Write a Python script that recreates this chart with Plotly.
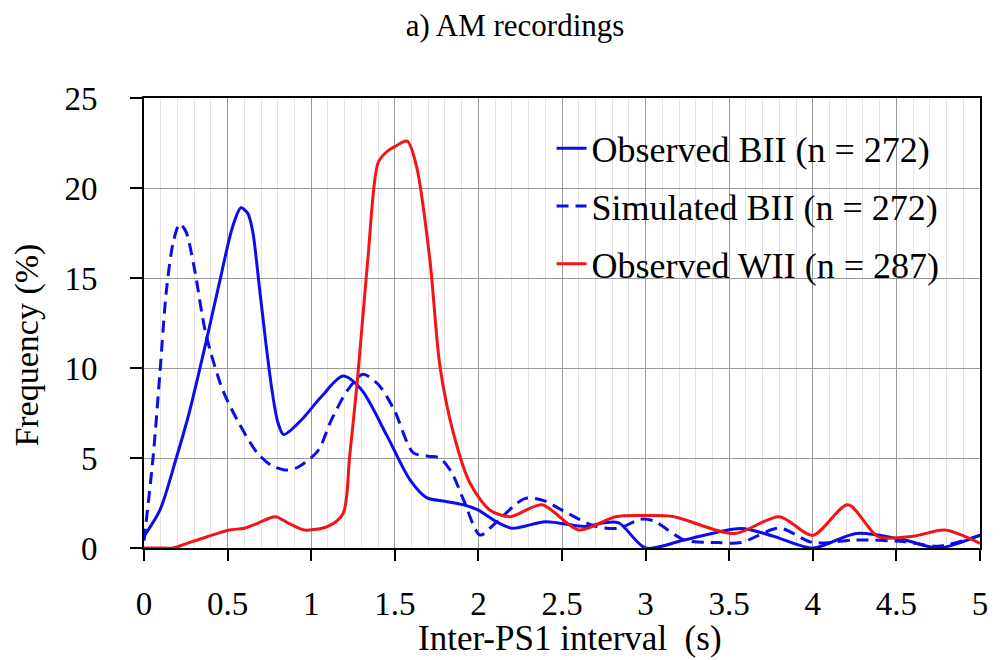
import plotly.graph_objects as go

# ---------------- data ----------------
obs_bii_x = [0, 0.095, 0.19, 0.27, 0.37, 0.45, 0.53, 0.58, 0.62, 0.65, 0.69, 0.73, 0.765, 0.80,
             0.835, 0.94, 1.06, 1.19, 1.30, 1.455, 1.59, 1.69, 1.8, 1.91, 2.0, 2.1, 2.2, 2.4,
             2.64, 2.75, 2.84, 3.0, 3.23, 3.57, 3.76, 4.0, 4.26, 4.55, 4.75, 5.0]
obs_bii_y = [0.65, 2.1, 4.9, 7.5, 11.4, 14.7, 17.85, 18.9, 18.6, 17.6, 14.5, 11.3, 8.8, 7.0,
             6.3, 7.1, 8.4, 9.55, 8.8, 6.2, 3.8, 2.8, 2.6, 2.4, 2.1, 1.5, 1.1, 1.46,
             1.2, 1.4, 1.4, 0.0, 0.44, 1.09, 0.67, 0.0, 0.81, 0.44, 0.0, 0.72]

sim_bii_x = [0, 0.055, 0.095, 0.134, 0.175, 0.213, 0.25, 0.3, 0.37, 0.47, 0.57, 0.676, 0.76,
             0.854, 0.923, 1.04, 1.12, 1.22, 1.31, 1.4, 1.495, 1.61, 1.7, 1.77, 1.84, 1.91,
             2.01, 2.1, 2.28, 2.4, 2.5, 2.7, 2.84, 2.97, 3.05, 3.23, 3.43, 3.57, 3.8, 4.0,
             4.26, 4.55, 4.75, 5.0]
sim_bii_y = [0.4, 5.1, 9.7, 14.3, 17.0, 18.0, 17.6, 15.6, 11.9, 8.8, 6.9, 5.3, 4.6,
             4.33, 4.5, 5.4, 7.1, 8.8, 9.65, 9.1, 7.7, 5.3, 5.1, 5.0, 4.2, 2.7,
             0.72, 1.37, 2.76, 2.6, 2.1, 1.2, 1.1, 1.6, 1.5, 0.45, 0.3, 0.3, 1.1, 0.3,
             0.45, 0.35, 0.1, 0.7]

obs_wii_x = [0, 0.1, 0.173, 0.27, 0.37, 0.51, 0.6, 0.686, 0.785, 0.87, 0.96, 1.1, 1.19, 1.23,
             1.28, 1.34, 1.40, 1.45, 1.5, 1.574, 1.63, 1.71, 1.77, 1.85, 1.95, 2.07, 2.19,
             2.38, 2.6, 2.82, 3.0, 3.17, 3.53, 3.8, 4.0, 4.21, 4.39, 4.6, 4.79, 5.0]
obs_wii_y = [0.0, 0.0, 0.0, 0.3, 0.6, 1.0, 1.1, 1.4, 1.74, 1.35, 1.0, 1.2, 1.9, 5.1,
             9.7, 16.2, 21.4, 22.0, 22.3, 22.6, 21.2, 16.0, 10.1, 6.4, 3.6, 2.1, 1.74,
             2.4, 1.0, 1.74, 1.8, 1.74, 0.8, 1.74, 0.7, 2.4, 0.63, 0.65, 1.0, 0.26]

x_ticks = [0, 0.5, 1, 1.5, 2, 2.5, 3, 3.5, 4, 4.5, 5]
x_tick_text = ["0", "0.5", "1", "1.5", "2", "2.5", "3", "3.5", "4", "4.5", "5"]
y_ticks = [0, 5, 10, 15, 20, 25]

names = ["Observed BII (n = 272)", "Simulated BII (n = 272)", "Observed WII (n = 287)"]

BLUE = "#0c0cec"
RED = "#f41414"
FONT = "Liberation Serif"

fig = go.Figure()
fig.add_trace(go.Scatter(x=obs_bii_x, y=obs_bii_y, mode="lines", name=names[0], legendgroup="a",
                         line=dict(color=BLUE, width=3, shape="spline", smoothing=0.8)))
fig.add_trace(go.Scatter(x=sim_bii_x, y=sim_bii_y, mode="lines", name=names[1], legendgroup="b",
                         line=dict(color=BLUE, width=3, dash="12px,7px", shape="spline", smoothing=0.8)))
fig.add_trace(go.Scatter(x=obs_wii_x, y=obs_wii_y, mode="lines", name=names[2], legendgroup="c",
                         line=dict(color=RED, width=3, shape="spline", smoothing=0.8)))

fig.update_layout(
    width=1000, height=660,
    margin=dict(l=144, r=13, t=98, b=112),
    paper_bgcolor="white", plot_bgcolor="white",
    font=dict(family=FONT, color="black", size=33),
    title=dict(text="a) AM recordings", x=0.515, xanchor="center", y=0.962, yanchor="middle",
               font=dict(family=FONT, size=31, color="black")),
    legend=dict(x=0.4875, y=0.955, xanchor="left", yanchor="top", bgcolor="rgba(0,0,0,0)",
                font=dict(family=FONT, size=36, color="black"), tracegroupgap=8,
                borderwidth=0),
    showlegend=True,
)

# white panel behind the legend (covers the grid, as in the reference)
fig.add_shape(type="rect", xref="paper", yref="paper", x0=0.4045, x1=0.982, y0=0.569, y1=0.951,
              fillcolor="white", line=dict(width=0), layer="between")

fig.update_xaxes(
    range=[0, 5], tickmode="array", tickvals=x_ticks, ticktext=x_tick_text,
    showline=True, linecolor="black", linewidth=2, mirror=True,
    ticks="outside", ticklen=11, tickcolor="black", tickwidth=1.5,
    showgrid=True, gridcolor="#9a9a9a", gridwidth=1.2,
    minor=dict(dtick=0.1, showgrid=True, gridcolor="#e4e4e4", gridwidth=1),
    tickfont=dict(family=FONT, size=33), zeroline=False, ticklabelstandoff=14,
)
fig.update_yaxes(
    range=[0, 25], tickmode="array", tickvals=y_ticks,
    showline=True, linecolor="black", linewidth=2, mirror=True,
    ticks="outside", ticklen=12, tickcolor="black", tickwidth=1.5,
    showgrid=True, gridcolor="#9a9a9a", gridwidth=1.2,
    tickfont=dict(family=FONT, size=33), zeroline=False, ticklabelstandoff=26,
)

fig.add_annotation(text="Inter-PS1 interval  (s)", xref="paper", yref="paper",
                   x=0.51, y=-0.2, xanchor="center", yanchor="middle", showarrow=False,
                   font=dict(family=FONT, size=35))
fig.add_annotation(text="Frequency (%)", xref="paper", yref="paper",
                   x=-0.141, y=0.45, xanchor="center", yanchor="middle", showarrow=False,
                   textangle=-90, font=dict(family=FONT, size=34))

fig.write_html("out.html")
